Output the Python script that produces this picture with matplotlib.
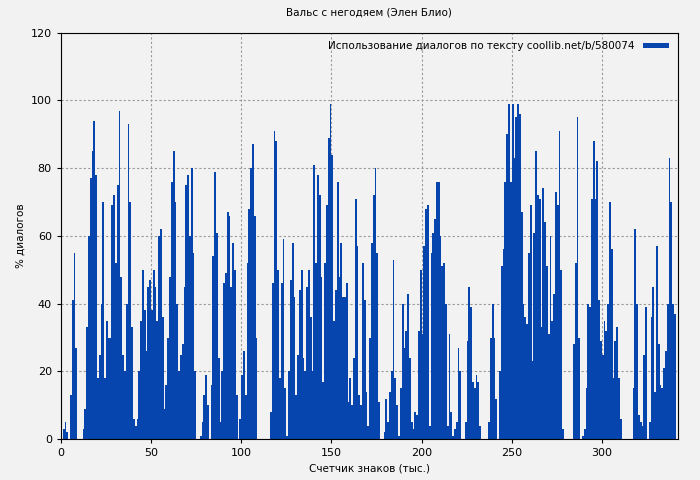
import matplotlib
matplotlib.use("Agg")
import matplotlib.pyplot as plt
import numpy as np

title = "Вальс с негодяем (Элен Блио)"
xlabel = "Счетчик знаков (тыс.)"
ylabel = "% диалогов"
legend_label = "Использование диалогов по тексту coollib.net/b/580074"

seg_a = [0,3,5,2,0,13,41,55,27,0,0,0,
         3,9,33,60,77,85,94,78,18,25,40,70,18,35,30,30,69,72,52,75,97,48,25,20,40,93,70,33,
         6,4,6,20,35,50,38,26,45,47,38,50,45,35,60,62,36,9,16,30,48,76,85,70,40,20,25,28,45,75,
         78,60,80,55,20,0,0,1,5,13,19,10,0,16,54,79,61,24,5,20,46,49,67,66,45,58,50,13,0,6,
         19,26,13,52,68,80,87,66,30,0,0,0,0,0,0,0]
seg_b = [8,46,91,88,50,18,46,59,15,1,20,47,58,42,13,25,44,50,24,20,45,50,36,
         20,81,52,78,72,48,17,52,69,89,99,84,35,44,76,48,58,42,42,46,11,18,10,24,71,57,
         13,10,52,41,14,4,30,58,72,80,55,11,0,0,
         2,12,5,14,20,53,18,10,1,15,40,27,32,43,24,5,3,8,7]
seg_c = [32,50,31,57,68,69,4,55,61,65,76,76,60,51,52,40,4,31,8,1,3,5,27,20,0,0,5,29,45,39,
         17,15,19,17,4,0,0,0,0,5,30,40,30,12,0,20,51,56,76,90,99,76,99,83,95,99,96,67,40,36,
         34,55]
seg_d = [69,23,61,85,72,71,33,74,64,51,31,60,35,43,73,69,91,50,3,0,0,0,0,0,28,52,95,30,0,1,
         3,15,40,39,71,88,71,82,41,29,25,35,32,40,70,56,18,29,33,18,6,0,0,0,0,0,0,15,62,40,
         7,5,4,25,39,0,5,36,45,14,57,28,16,15,21,26,40,83,70,40,37]
values = seg_a + seg_b + seg_c + seg_d
chars_k = np.arange(len(values))

bg = "#f2f2f2"
fig = plt.figure(figsize=(7, 4.8), dpi=100, facecolor=bg)
ax = fig.add_axes([0.087, 0.085, 0.881, 0.847], facecolor=bg)
ax.bar(chars_k, values, width=1.0, align="edge", color="#0645ad", linewidth=0, label=legend_label)
ax.set_xlim(0, 342)
ax.set_ylim(0, 120)
ax.set_xticks(np.arange(0, 301, 50))
ax.set_yticks(np.arange(0, 121, 20))
ax.grid(True, color="#999999", linestyle=(0, (2, 2)), linewidth=0.8)
ax.set_axisbelow(True)
ax.tick_params(labelsize=8, length=3)
ax.set_title(title, fontsize=7.5, pad=12)
ax.set_xlabel(xlabel, fontsize=7.5)
ax.set_ylabel(ylabel, fontsize=7.5)
ax.legend(loc="upper right", frameon=False, fontsize=7.5, handlelength=2.5, handleheight=0.4,
          markerfirst=False, borderaxespad=0.4)
fig.savefig("out.png", dpi=100, facecolor=bg)
